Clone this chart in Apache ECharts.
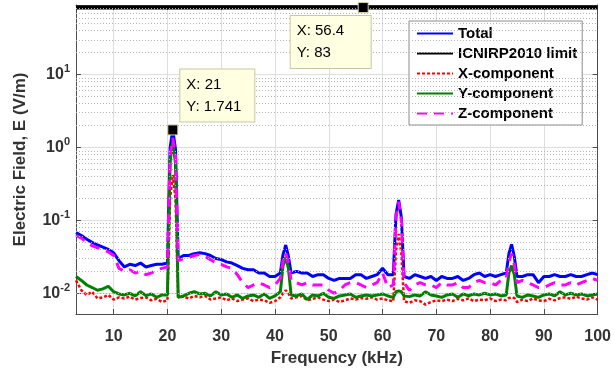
<!DOCTYPE html>
<html>
<head>
<meta charset="utf-8">
<script src="https://cdn.jsdelivr.net/npm/echarts@6/dist/echarts.min.js"></script>
<style>
  html, body { margin: 0; padding: 0; background: #fff; }
  #chart { width: 614px; height: 372px; }
</style>
</head>
<body>
<div id="chart"></div>
<script>
// frequency axis (kHz), one point per kHz
var freq = [];
for (var f = 3; f <= 100; f++) freq.push(f);

// Total field
var total = [
  0.068, 0.062, 0.055, 0.050, 0.046, 0.043, 0.040, 0.036,            // 3-10
  0.028, 0.023, 0.025, 0.024, 0.026, 0.023, 0.024, 0.025, 0.025, 0.026, // 11-20
  1.741, 0.030, 0.033, 0.033, 0.035, 0.036, 0.035, 0.033, 0.030, 0.029, // 21-30
  0.027, 0.026, 0.024, 0.022, 0.021, 0.021, 0.019, 0.019, 0.017, 0.017, // 31-40
  0.019, 0.046, 0.019, 0.020, 0.019, 0.019, 0.017, 0.018, 0.018, 0.016, // 41-50
  0.015, 0.016, 0.016, 0.016, 0.018, 0.018, 0.016, 0.017, 0.018, 0.022, // 51-60
  0.018, 0.018, 0.190, 0.017, 0.016, 0.018, 0.017, 0.016, 0.017, 0.015, // 61-70
  0.017, 0.016, 0.016, 0.017, 0.015, 0.016, 0.018, 0.019, 0.017, 0.018, // 71-80
  0.017, 0.018, 0.019, 0.047, 0.017, 0.017, 0.018, 0.018, 0.014, 0.017, // 81-90
  0.017, 0.018, 0.017, 0.017, 0.018, 0.017, 0.017, 0.018, 0.019, 0.018  // 91-100
];

// ICNIRP2010 limit
var limitFreq = [3, 100];
var limitValue = [83, 83];

// X-component
var xComp = [
  0.0150, 0.0110, 0.0095, 0.0105, 0.0085, 0.0088, 0.0095, 0.0082,
  0.0088, 0.0085, 0.0090, 0.0082, 0.0086, 0.0088, 0.0080, 0.0084, 0.0076, 0.0080,
  0.420, 0.0088, 0.0090, 0.0085, 0.0092, 0.0088, 0.0092, 0.0082, 0.0085, 0.0088,
  0.0080, 0.0085, 0.0078, 0.0082, 0.0085, 0.0078, 0.0082, 0.0080, 0.0074, 0.0078,
  0.0088, 0.0110, 0.0085, 0.0088, 0.0092, 0.0080, 0.0084, 0.0088, 0.0082, 0.0078,
  0.0082, 0.0076, 0.0080, 0.0085, 0.0082, 0.0086, 0.0084, 0.0088, 0.0082, 0.0085,
  0.0080, 0.0078, 0.0650, 0.0078, 0.0074, 0.0080, 0.0078, 0.0070, 0.0076, 0.0080,
  0.0078, 0.0082, 0.0078, 0.0084, 0.0080, 0.0085, 0.0078, 0.0082, 0.0080, 0.0085,
  0.0078, 0.0082, 0.0080, 0.0088, 0.0076, 0.0082, 0.0078, 0.0085, 0.0080, 0.0078,
  0.0084, 0.0080, 0.0086, 0.0088, 0.0084, 0.0090, 0.0085, 0.0082, 0.0088, 0.0082
];

// Y-component
var yComp = [
  0.0170, 0.0150, 0.0130, 0.0120, 0.0110, 0.0115, 0.0125, 0.0105,
  0.0098, 0.0095, 0.0100, 0.0092, 0.0105, 0.0093, 0.0098, 0.0088, 0.0095, 0.0095,
  1.200, 0.0088, 0.0092, 0.0100, 0.0105, 0.0098, 0.0100, 0.0092, 0.0105, 0.0095,
  0.0098, 0.0088, 0.0095, 0.0085, 0.0092, 0.0095, 0.0088, 0.0098, 0.0085, 0.0092,
  0.0105, 0.0310, 0.0095, 0.0092, 0.0098, 0.0082, 0.0095, 0.0092, 0.0100, 0.0088,
  0.0085, 0.0092, 0.0095, 0.0098, 0.0088, 0.0092, 0.0095, 0.0092, 0.0095, 0.0098,
  0.0092, 0.0088, 0.0108, 0.0092, 0.0090, 0.0095, 0.0092, 0.0105, 0.0095, 0.0092,
  0.0088, 0.0095, 0.0098, 0.0088, 0.0098, 0.0092, 0.0098, 0.0095, 0.0100, 0.0095,
  0.0098, 0.0092, 0.0095, 0.0240, 0.0092, 0.0088, 0.0095, 0.0092, 0.0088, 0.0095,
  0.0098, 0.0092, 0.0105, 0.0095, 0.0100, 0.0095, 0.0098, 0.0092, 0.0095, 0.0098
];

// Z-component
var zComp = [
  0.062, 0.057, 0.050, 0.045, 0.042, 0.040, 0.037, 0.033,
  0.022, 0.020, 0.021, 0.019, 0.020, 0.018, 0.019, 0.021, 0.022, 0.023,
  1.350, 0.028, 0.030, 0.031, 0.033, 0.034, 0.032, 0.029, 0.026, 0.025,
  0.023, 0.022, 0.018, 0.014, 0.012, 0.013, 0.014, 0.013, 0.012, 0.013,
  0.016, 0.036, 0.015, 0.014, 0.013, 0.014, 0.013, 0.013, 0.013, 0.011,
  0.010, 0.011, 0.013, 0.014, 0.014, 0.013, 0.012, 0.013, 0.014, 0.019,
  0.012, 0.013, 0.180, 0.014, 0.011, 0.013, 0.014, 0.013, 0.013, 0.012,
  0.014, 0.013, 0.013, 0.014, 0.012, 0.012, 0.014, 0.015, 0.014, 0.014,
  0.013, 0.015, 0.016, 0.035, 0.014, 0.015, 0.014, 0.013, 0.012, 0.012,
  0.013, 0.014, 0.013, 0.013, 0.014, 0.013, 0.014, 0.015, 0.016, 0.015
];

// extra half-kHz samples on the flanks of the four harmonic peaks
var shoulderFreq = [20.5, 21.5, 41.5, 42.5, 62.5, 63.5, 83.5, 84.5];
var totalShoulder = [1.00, 0.95, 0.034, 0.032, 0.12, 0.11, 0.035, 0.032];
var xShoulder     = [0.20, 0.20, 0.0100, 0.0100, 0.038, 0.035, 0.0086, 0.0086];
var yShoulder     = [0.65, 0.60, 0.024, 0.022, 0.0105, 0.0105, 0.019, 0.018];
var zShoulder     = [0.80, 0.75, 0.028, 0.026, 0.11, 0.10, 0.027, 0.025];

// data tips
var tipFreq = [21, 56.4];
var tipValue = [1.741, 83];

// minor grid values (2..9 per decade)
var minorGrid = [0.006, 0.007, 0.008, 0.009,
  0.02, 0.03, 0.04, 0.05, 0.06, 0.07, 0.08, 0.09,
  0.2, 0.3, 0.4, 0.5, 0.6, 0.7, 0.8, 0.9,
  2, 3, 4, 5, 6, 7, 8, 9,
  20, 30, 40, 50, 60, 70, 80];

function pairs(xs, ys) {
  return xs.map(function (x, i) { return [x, ys[i]]; });
}
function merged(ys, extra) {
  return pairs(freq, ys).concat(pairs(shoulderFreq, extra))
    .sort(function (a, b) { return a[0] - b[0]; });
}

var FONT = "'Liberation Sans', Arial, sans-serif";
var AXIS_COLOR = '#4d4d4d';
var TEXT_COLOR = '#333';

var tipLabel = {
  show: true,
  fontFamily: FONT,
  fontSize: 15,
  color: '#000',
  lineHeight: 22,
  backgroundColor: '#ffffe1',
  borderColor: '#c8c8a0',
  borderWidth: 1,
  padding: [4, 6, 4, 6]
};

var chart = echarts.init(document.getElementById('chart'));
chart.setOption({
  animation: false,
  grid: { left: 76, right: 11, top: 5, bottom: 56 },
  legend: {
    orient: 'vertical',
    left: 409,
    top: 21,
    backgroundColor: '#fff',
    borderColor: '#8c8c8c',
    borderWidth: 1,
    padding: [5, 5, 4, 7],
    itemWidth: 36,
    itemHeight: 14,
    itemGap: 5,
    itemStyle: { opacity: 0 },
    textStyle: { fontFamily: FONT, fontSize: 15, fontWeight: 'bold', color: '#000', lineHeight: 14 },
    data: ['Total', 'ICNIRP2010 limit', 'X-component', 'Y-component', 'Z-component']
  },
  xAxis: [{
    type: 'value',
    min: 3,
    max: 100,
    splitNumber: 10,
    name: 'Frequency (kHz)',
    nameLocation: 'middle',
    nameGap: 36,
    nameTextStyle: { fontFamily: FONT, fontSize: 17, fontWeight: 'bold', color: TEXT_COLOR },
    axisLine: { show: true, lineStyle: { color: AXIS_COLOR, width: 1 } },
    axisTick: { show: true, inside: true, length: 5, lineStyle: { color: AXIS_COLOR } },
    axisLabel: {
      fontFamily: FONT, fontSize: 16, fontWeight: 'bold', color: TEXT_COLOR, margin: 15,
      showMinLabel: false,
      formatter: function (v) { return v % 10 === 0 ? String(v) : ''; }
    },
    splitLine: { show: true, lineStyle: { color: '#dedede', width: 1 } }
  }, {
    type: 'value',
    position: 'top',
    min: 3,
    max: 100,
    splitNumber: 10,
    axisLine: { show: true, lineStyle: { color: AXIS_COLOR, width: 1 } },
    axisTick: { show: true, inside: true, length: 5, lineStyle: { color: AXIS_COLOR } },
    axisLabel: { show: false },
    splitLine: { show: false }
  }],
  yAxis: [{
    type: 'log',
    logBase: 10,
    min: 0.0052,
    max: 90,
    name: 'Electric Field, E (V/m)',
    nameLocation: 'middle',
    nameGap: 47,
    nameTextStyle: { fontFamily: FONT, fontSize: 17, fontWeight: 'bold', color: TEXT_COLOR },
    axisLine: { show: true, lineStyle: { color: AXIS_COLOR, width: 1 } },
    axisTick: { show: true, inside: true, length: 5, lineStyle: { color: AXIS_COLOR } },
    axisLabel: {
      margin: 6,
      showMinLabel: false,
      showMaxLabel: false,
      formatter: function (v) {
        var e = Math.log10(v);
        var r = Math.round(e);
        if (Math.abs(e - r) > 1e-6) return '';
        return '{b|10}{s|' + r + '}';
      },
      rich: {
        b: { fontFamily: FONT, fontSize: 16, fontWeight: 'bold', color: TEXT_COLOR, lineHeight: 22 },
        s: { fontFamily: FONT, fontSize: 11, fontWeight: 'bold', color: TEXT_COLOR, verticalAlign: 'top', lineHeight: 12 }
      }
    },
    splitLine: { show: true, lineStyle: { color: '#dedede', width: 1 } }
  }, {
    type: 'log',
    logBase: 10,
    position: 'right',
    min: 0.0052,
    max: 90,
    axisLine: { show: true, lineStyle: { color: AXIS_COLOR, width: 1 } },
    axisTick: { show: true, inside: true, length: 5, lineStyle: { color: AXIS_COLOR } },
    axisLabel: { show: false },
    splitLine: { show: false }
  }],
  series: [
    {
      name: 'minor-grid',
      type: 'line',
      data: [[limitFreq[0], minorGrid[0]]],
      showSymbol: false,
      symbol: 'none',
      silent: true,
      z: 1,
      lineStyle: { opacity: 0 },
      markLine: {
        silent: true,
        symbol: 'none',
        label: { show: false },
        lineStyle: { color: '#b4b4b4', type: [1, 2], width: 1 },
        data: minorGrid.map(function (v) { return { yAxis: v }; })
      }
    },
    {
      name: 'Total',
      type: 'line',
      data: merged(total, totalShoulder),
      showSymbol: false,
      symbol: 'none',
      color: '#0000ff',
      lineStyle: { color: '#0000ff', width: 3 },
      markPoint: {
        symbol: 'rect',
        symbolSize: 10,
        itemStyle: { color: '#000', borderColor: '#d8d0a0', borderWidth: 1 },
        label: Object.assign({}, tipLabel, { position: [13, -55], width: 62 }),
        data: [{ coord: [tipFreq[0], tipValue[0]], value: tipValue[0],
                 label: { formatter: 'X: ' + tipFreq[0] + '\nY: ' + tipValue[0] } }]
      }
    },
    {
      name: 'ICNIRP2010 limit',
      type: 'line',
      data: pairs(limitFreq, limitValue),
      showSymbol: false,
      symbol: 'none',
      color: '#000',
      lineStyle: { color: '#000', width: 4 },
      markPoint: {
        symbol: 'rect',
        symbolSize: 10,
        itemStyle: { color: '#000', borderColor: '#d8d0a0', borderWidth: 1 },
        label: Object.assign({}, tipLabel, { position: [-67, 14], width: 68 }),
        data: [{ coord: [tipFreq[1], tipValue[1]], value: tipValue[1],
                 label: { formatter: 'X: ' + tipFreq[1] + '\nY: ' + tipValue[1] } }]
      }
    },
    {
      name: 'X-component',
      type: 'line',
      data: merged(xComp, xShoulder),
      showSymbol: false,
      symbol: 'none',
      color: '#ff0000',
      lineStyle: { color: '#ff0000', width: 2.5, type: [3, 2] }
    },
    {
      name: 'Y-component',
      type: 'line',
      data: merged(yComp, yShoulder),
      showSymbol: false,
      symbol: 'none',
      color: '#008000',
      lineStyle: { color: '#008000', width: 3 }
    },
    {
      name: 'Z-component',
      type: 'line',
      data: merged(zComp, zShoulder),
      showSymbol: false,
      symbol: 'none',
      color: '#ff00ff',
      lineStyle: { color: '#ff00ff', width: 3, type: [10, 7] }
    }
  ]
});
</script>
</body>
</html>
